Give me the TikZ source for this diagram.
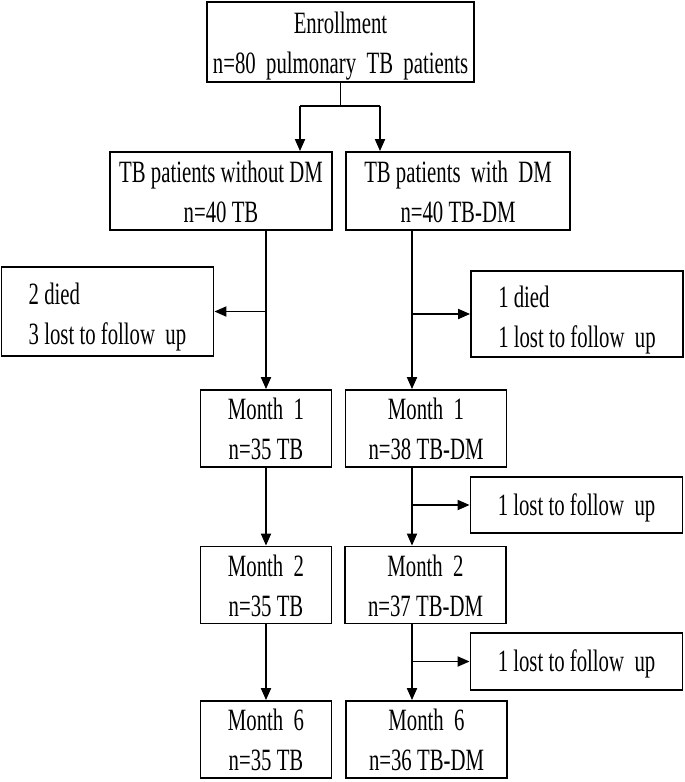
\documentclass[tikz,border=0pt]{standalone}
\usepackage{fontspec}
\setmainfont{Liberation Serif}[FakeStretch=0.67]
\usepackage{tikz}
\usetikzlibrary{arrows.meta, positioning}

\begin{document}
\begin{tikzpicture}[
    x=1pt, y=-1pt,
    every node/.style={font=\fontsize{31}{40}\selectfont, inner sep=0pt, text depth=0pt},
    box/.style={rectangle, draw, line width=1.8pt, align=center, text height=62pt},
    lossbox/.style={rectangle, draw, line width=1.8pt, align=left, minimum width=212pt, text height=66pt},
    lossone/.style={lossbox, align=center, text height=20pt},
    monthA/.style={box, minimum width=131pt, minimum height=77pt},
    monthB/.style={box, minimum width=161pt, minimum height=77pt},
    arrow/.style={line width=1.8pt, -{Triangle[length=12pt,width=10pt]}}
]
\useasboundingbox (0,0) rectangle (685,782);

% Enrollment
\node[box, minimum width=267pt, minimum height=80pt] (enroll) at (340.5,42) {Enrollment\\n=80\ \ pulmonary\ \ TB\ \ patients};

% Groups
\node[box, minimum width=222pt, minimum height=78pt] (nodm) at (221,191) {TB patients without DM\\n=40 TB};
\node[box, minimum width=224pt, minimum height=78pt] (dm) at (458,191) {TB patients\ \ with\ \ DM\\n=40 TB-DM};

% Losses
\node[lossbox, minimum height=89pt] (lossA) at (107.5,311.5) {2 died\\3 lost to follow\ \ up};
\node[lossbox, minimum height=86pt] (lossB) at (577,314) {1 died\\1 lost to follow\ \ up};
\node[lossone, minimum height=56pt] (lossC) at (576.5,505) {1 lost to follow\ \ up};
\node[lossone, minimum height=57pt] (lossD) at (576.5,661.5) {1 lost to follow\ \ up};

% Follow-up visits
\node[monthA] (m1a) at (266,428.5) {Month\ \ 1\\n=35 TB};
\node[monthB] (m1b) at (426,428.5) {Month\ \ 1\\n=38 TB-DM};
\node[monthA] (m2a) at (266,585) {Month\ \ 2\\n=35 TB};
\node[monthB] (m2b) at (425.5,585) {Month\ \ 2\\n=37 TB-DM};
\node[monthA] (m6a) at (266,739.5) {Month\ \ 6\\n=35 TB};
\node[monthB] (m6b) at (426.5,739.5) {Month\ \ 6\\n=36 TB-DM};

% Split
\coordinate (splitL) at (300,106);
\coordinate (splitR) at (380,106);
\coordinate (colR) at (412,0);
\draw[line width=1.8pt] (enroll.south) -- (enroll.south |- splitL);
\draw[line width=1.8pt] (splitL) -- (splitR);
\draw[arrow] (splitL) -- (splitL |- nodm.north);
\draw[arrow] (splitR) -- (splitR |- dm.north);

% Without DM
\draw[arrow] (m1a.north |- nodm.south) -- (m1a.north);
\draw[arrow] (m1a.north |- lossA.east) -- (lossA.east);
\draw[arrow] (m1a) -- (m2a);
\draw[arrow] (m2a) -- (m6a);

% With DM
\draw[arrow] (colR |- dm.south) -- (colR |- m1b.north);
\draw[arrow] (colR |- lossB.west) -- (lossB.west);
\draw[arrow] (colR |- m1b.south) -- (colR |- m2b.north);
\draw[arrow] (colR |- lossC.west) -- (lossC.west);
\draw[arrow] (colR |- m2b.south) -- (colR |- m6b.north);
\draw[arrow] (colR |- lossD.west) -- (lossD.west);

\end{tikzpicture}
\end{document}
